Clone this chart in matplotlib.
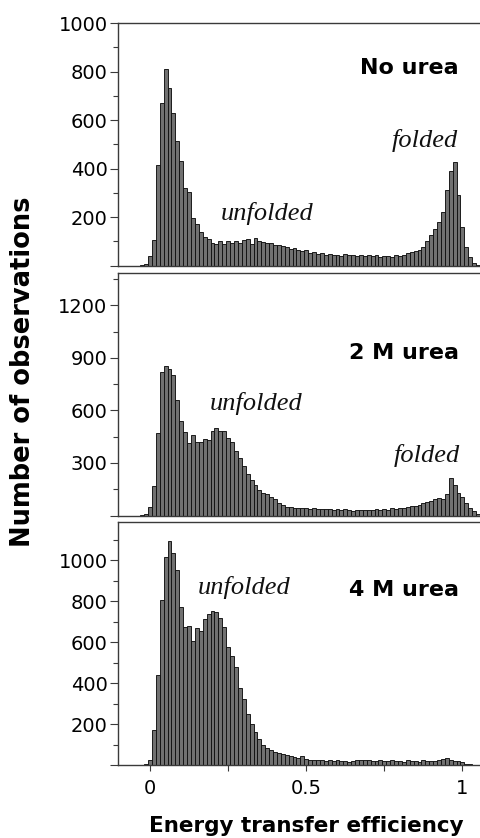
import numpy as np
import matplotlib
matplotlib.use("Agg")
import matplotlib.pyplot as plt
from matplotlib.ticker import FixedLocator, MultipleLocator

# Histogram bins: width 0.0125 in transfer efficiency, centred from -0.025 to 1.05
BIN_WIDTH = 0.0125
bin_centers = np.round(np.arange(-2, 85) * BIN_WIDTH, 4)

counts_no_urea = [
    2, 8, 39, 105, 414, 671, 809, 730, 627, 515, 432, 318, 305, 195, 171, 140,
    118, 108, 94, 88, 101, 87, 100, 94, 100, 94, 104, 109, 89, 112, 99, 96,
    94, 92, 84, 86, 80, 78, 70, 74, 64, 60, 62, 52, 55, 48, 50, 45, 48, 42,
    45, 40, 46, 42, 44, 40, 45, 38, 42, 40, 44, 36, 40, 38, 35, 42, 38, 45,
    50, 55, 58, 62, 75, 100, 125, 150, 180, 220, 310, 390, 427, 291, 160, 78,
    34, 12, 4,
]

counts_2m_urea = [
    3, 8,
    47, 169, 471, 818, 853, 838, 805, 658, 537, 476, 413, 461, 417, 417, 436,
    429, 480, 500, 480, 480, 442, 417, 366, 328, 280, 238, 204, 175, 146, 131,
    123, 104, 93, 70, 60, 51, 47,
    44, 42, 40, 42, 38, 40, 36, 38, 35, 38, 34, 36, 32, 35, 30, 28, 32, 30,
    34, 32, 30, 35, 32, 38, 34, 40, 36, 44, 40, 48, 52, 56,
    62, 70, 78, 84, 92, 98, 95, 120, 213, 175, 128, 108, 70, 45, 26, 10,
]

counts_4m_urea = [
    2, 4,
    26, 171, 439, 805, 1016, 1094, 1036, 951, 770, 675, 678, 605, 667, 655,
    710, 738, 750, 745, 715, 675,
    577, 530, 480, 376, 320, 250, 200, 160, 125, 100, 85, 75, 65, 58, 52, 48,
    44, 40,
    36, 42, 30, 26, 24, 22, 24, 20, 22, 20, 22, 18, 20, 16, 20, 24, 26, 24,
    26, 20, 18, 22, 18, 20, 24, 18, 20, 16, 22, 18, 20, 16, 22, 18, 20, 18,
    22, 30, 32, 24, 18, 20, 14, 6, 3, 1, 1,
]

panel_titles = ["No urea", "2 M urea", "4 M urea"]
y_major_ticks = [
    [0, 200, 400, 600, 800, 1000],
    [0, 300, 600, 900, 1200],
    [0, 200, 400, 600, 800, 1000],
]
y_minor_step = [100, 150, 100]
y_top = [1000, 1385, 1187]
x_ticks = [0, 0.25, 0.5, 0.75, 1.0]
x_tick_labels = ["0", "", "0.5", "", "1"]

# (x, y, text) for the state annotations in each panel
state_labels = [
    [(0.376, 188, "unfolded"), (0.881, 490, "folded")],
    [(0.339, 605, "unfolded"), (0.887, 308, "folded")],
    [(0.301, 834, "unfolded")],
]
title_y = [790, 891, 824]

plt.rcParams["font.family"] = ["DejaVu Sans"]

fig = plt.figure(figsize=(4.81, 8.38), dpi=100)
fig.patch.set_facecolor("white")

left, width = 118 / 481, 363 / 481
rects = [
    [left, 1 - 265.5 / 838, width, 242.5 / 838],
    [left, 1 - 515.5 / 838, width, 242.5 / 838],
    [left, 1 - 765.0 / 838, width, 243.3 / 838],
]
series = [counts_no_urea, counts_2m_urea, counts_4m_urea]

spine_color = "#3a3a3a"
for i, (rect, counts) in enumerate(zip(rects, series)):
    ax = fig.add_axes(rect)
    ax.bar(bin_centers, counts, width=BIN_WIDTH, color="#717171",
           edgecolor="#111111", linewidth=0.65, align="center", zorder=2)
    ax.set_xlim(-0.1025, 1.0595)
    ax.set_ylim(0, y_top[i])

    ax.spines["right"].set_visible(False)
    for side in ("left", "top", "bottom"):
        ax.spines[side].set_color(spine_color)
        ax.spines[side].set_linewidth(1.0)

    ax.yaxis.set_major_locator(FixedLocator(y_major_ticks[i]))
    ax.set_yticklabels([""] + [str(t) for t in y_major_ticks[i][1:]])
    ax.yaxis.set_minor_locator(MultipleLocator(y_minor_step[i]))
    ax.tick_params(axis="y", which="major", direction="out", length=6,
                   width=0.8, pad=1.5, labelsize=14, colors="black")
    ax.tick_params(axis="y", which="minor", direction="out", length=3.5,
                   width=0.8, colors="black")
    ax.tick_params(axis="y", which="both", color=spine_color)

    if i < 2:
        ax.tick_params(axis="x", which="both", bottom=False,
                       labelbottom=False)
    else:
        ax.set_xticks(x_ticks)
        ax.set_xticklabels(x_tick_labels)
        ax.tick_params(axis="x", direction="out", length=4, width=0.8,
                       pad=6, labelsize=14, color=spine_color)

    ax.text(0.989, title_y[i], panel_titles[i], ha="right", va="baseline",
            fontsize=16, fontweight="bold", color="black")
    for x, y, txt in state_labels[i]:
        ax.text(x, y, txt, ha="center", va="baseline", fontsize=19,
                fontstyle="italic", family=["Liberation Serif"],
                color="#111111")

fig.text(23 / 481, 1 - 372 / 838, "Number of observations", rotation=90,
         ha="center", va="center", fontsize=18.5, fontweight="bold")
fig.text(306 / 481, 1 - 831.7 / 838, "Energy transfer efficiency",
         ha="center", va="baseline", fontsize=15.5, fontweight="bold")

fig.savefig("out.png", dpi=100, facecolor="white")
